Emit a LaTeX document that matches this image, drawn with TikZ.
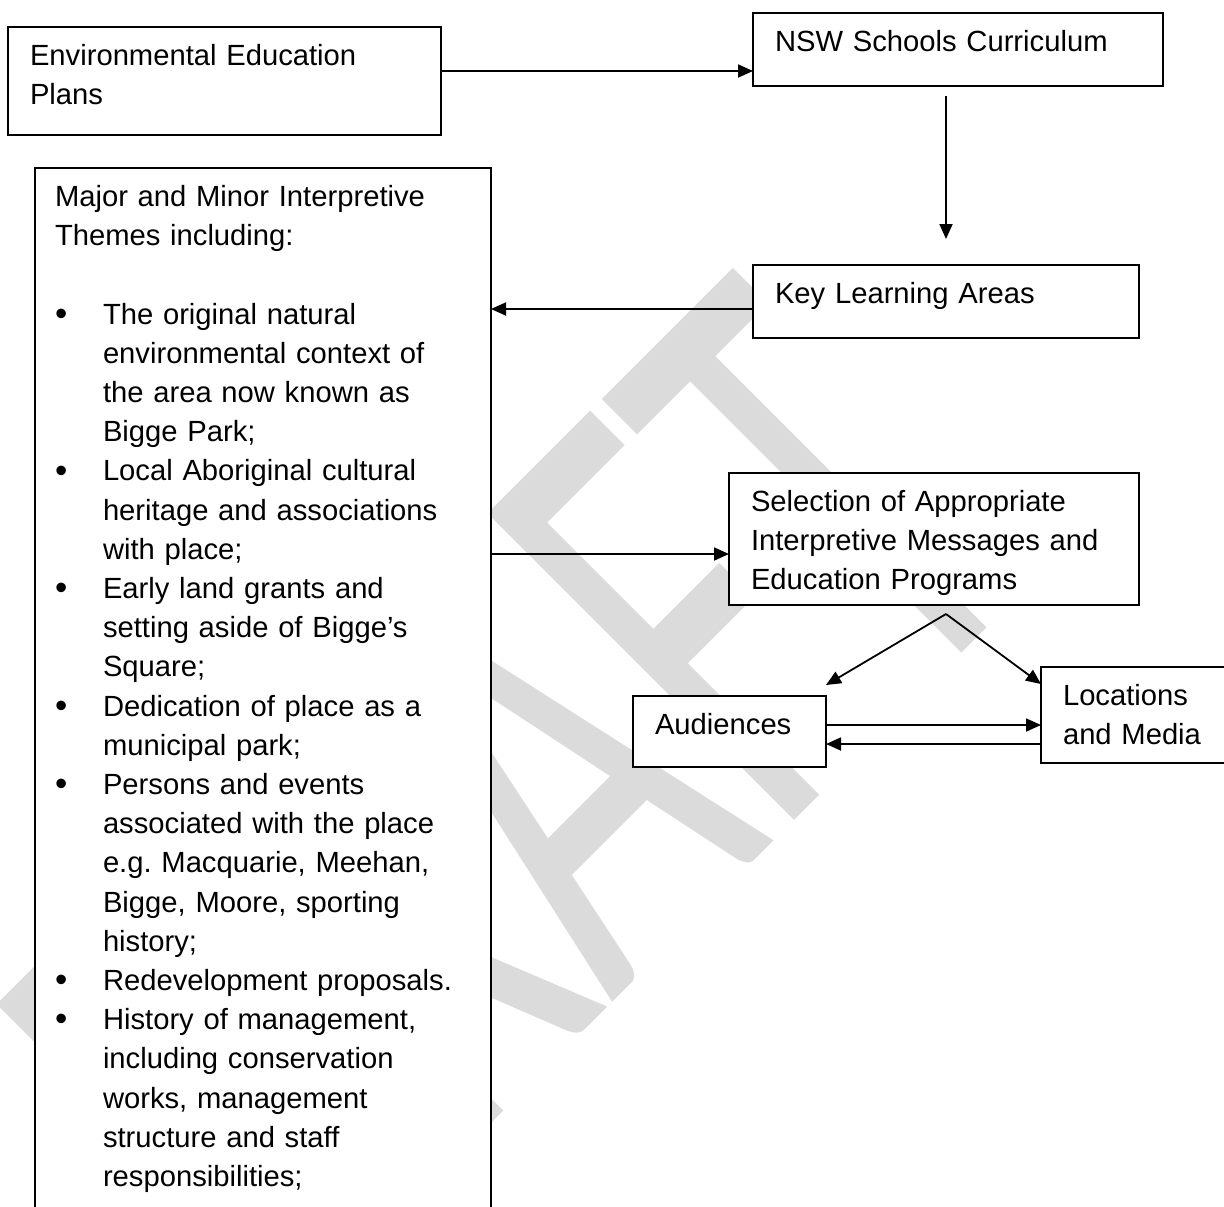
\documentclass[tikz,border=0pt]{standalone}
\usepackage{fontspec}
\setmainfont{Liberation Sans}
\newfontfamily\draftfont{Carlito}
\usetikzlibrary{arrows.meta}
\newcommand{\themeitem}[1]{\par\leftskip=24pt\noindent\llap{\makebox[24pt][l]{\raisebox{-0.6pt}{\fontsize{17.5}{19.6}\selectfont\textbullet}}}#1\par}

\begin{document}
\begin{tikzpicture}[x=0.5pt,y=-0.5pt]
        \tikzstyle{box}=[draw,line width=0.9pt,fill=white,anchor=north west,outer sep=0pt,inner xsep=11pt,inner ysep=5.5pt,text height=13.7pt,font=\fontsize{14.6}{19.6}\selectfont\frenchspacing]
        \tikzstyle{edge}=[draw,line width=0.9pt,>={Triangle[length=7.5pt,width=6.5pt]}]
        \useasboundingbox (0,0) rectangle (1224,1206);
        \clip (0,0) rectangle (1224,1206);
        \node [rotate=45,yscale=1.69,anchor=base west,inner sep=0pt,text=black!14,font=\draftfont\fontsize{200}{200}\selectfont] (draft) at (284,1331) {DRAFT};
        \node [box,text width=194.5pt,text depth=29.3pt] (env) at (8,27) {Environmental Education\\Plans};
        \node [box,text width=183pt,text depth=11.8pt] (nsw) at (753,13) {NSW Schools Curriculum};
        \node [box,text width=171pt,text depth=11.8pt] (kla) at (753,265) {Key Learning Areas};
        \node [box,text width=183pt,text depth=41.3pt] (sel) at (729,473) {Selection of Appropriate\\Interpretive Messages and\\Education Programs};
        \node [box,text width=74.5pt,text depth=10.8pt] (aud) at (633,696) {Audiences};
        \node [box,text width=103pt,text depth=23.3pt] (loc) at (1041,667) {Locations\\and Media};
        \node [box,text width=208pt,inner xsep=10pt,text depth=600pt] (themes) at (35,168) {Major and Minor Interpretive\\Themes including:\par\vspace{\baselineskip}
          \themeitem{The original natural\\environmental context of\\the area now known as\\Bigge Park;}
          \themeitem{Local Aboriginal cultural\\heritage and associations\\with place;}
          \themeitem{Early land grants and\\setting aside of Bigge’s\\Square;}
          \themeitem{Dedication of place as a\\municipal park;}
          \themeitem{Persons and events\\associated with the place\\e.g. Macquarie, Meehan,\\Bigge, Moore, sporting\\history;}
          \themeitem{Redevelopment proposals.}
          \themeitem{History of management,\\including conservation\\works, management\\structure and staff\\responsibilities;}};
        \coordinate (fork) at ([xshift=6pt,yshift=-4.5pt]sel.south);
        \draw[edge,->] ([yshift=5pt]env.east) -- ([yshift=5pt]env.east -| nsw.west);
        \draw[edge,->] ([yshift=-5pt]nsw.south -| kla.north) -- ([yshift=13pt]kla.north);
        \draw[edge,->] ([yshift=-3.75pt]kla.west) -- ([yshift=-3.75pt]kla.west -| themes.east);
        \draw[edge,->] ([yshift=-7.5pt]sel.west -| themes.east) -- ([yshift=-7.5pt]sel.west);
        \draw[edge,->] (fork) -- ([yshift=5.5pt]aud.north east);
        \draw[edge,->] (fork) -- ([yshift=-8.5pt]loc.north west);
        \draw[edge,->] ([yshift=3.25pt]aud.east) -- ([yshift=3.25pt]aud.east -| loc.west);
        \draw[edge,->] ([yshift=-6.25pt]aud.east -| loc.west) -- ([yshift=-6.25pt]aud.east);
\end{tikzpicture}
\end{document}
